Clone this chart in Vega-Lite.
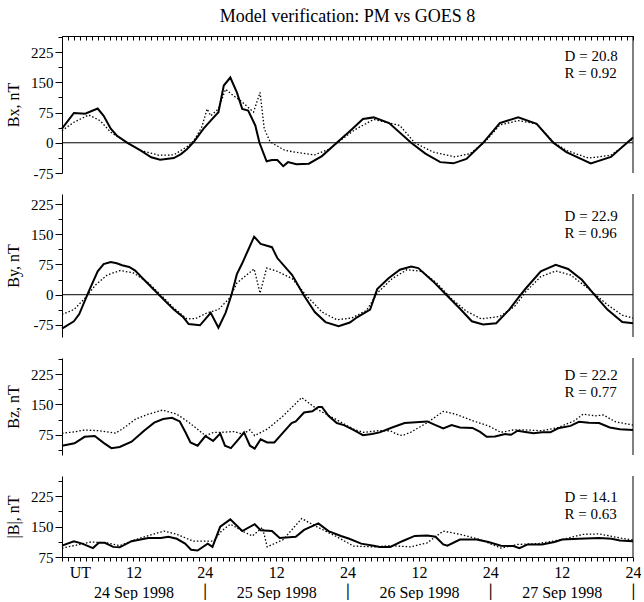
{
  "$schema": "https://vega.github.io/schema/vega-lite/v6.json",
  "padding": {"left": 5, "top": 8, "right": 0, "bottom": 0},
  "bounds": "flush",
  "spacing": 21,
  "title": {"text": "Model verification: PM vs GOES 8", "font": "Liberation Serif", "fontSize": 18, "fontWeight": "normal", "anchor": "middle", "frame": "group", "offset": 4, "color": "black"},
  "datasets": {
    "one": [{"k": 1}],
    "bxPM": [{"t":0,"v":35},{"t":2,"v":74},{"t":3.9,"v":72},{"t":6,"v":85},{"t":7,"v":67},{"t":8.2,"v":35},{"t":9.2,"v":18},{"t":11,"v":0},{"t":13.2,"v":-19},{"t":15,"v":-36},{"t":16.5,"v":-42},{"t":18.8,"v":-38},{"t":20,"v":-28},{"t":21,"v":-16},{"t":22.2,"v":3},{"t":23.8,"v":35},{"t":25,"v":55},{"t":26.3,"v":76},{"t":27.2,"v":142},{"t":28.3,"v":162},{"t":29.4,"v":125},{"t":30.3,"v":84},{"t":31.3,"v":80},{"t":32.5,"v":43},{"t":33.2,"v":0},{"t":34.4,"v":-46},{"t":35.3,"v":-43},{"t":36.2,"v":-43},{"t":37.2,"v":-58},{"t":38,"v":-48},{"t":39.4,"v":-53},{"t":41.5,"v":-52},{"t":43.7,"v":-33},{"t":46.2,"v":0},{"t":48.7,"v":33},{"t":50.6,"v":59},{"t":52.4,"v":63},{"t":55,"v":49},{"t":58.7,"v":0},{"t":61.1,"v":-27},{"t":63.6,"v":-48},{"t":65.8,"v":-51},{"t":68,"v":-40},{"t":70.8,"v":0},{"t":73.6,"v":49},{"t":76.7,"v":63},{"t":79.8,"v":47},{"t":82.6,"v":0},{"t":84.8,"v":-23},{"t":88.9,"v":-51},{"t":92.3,"v":-35},{"t":96,"v":13}],
    "bxGO": [{"t":0,"v":30},{"t":2,"v":51},{"t":4.5,"v":69},{"t":6.4,"v":55},{"t":8.2,"v":26},{"t":10.7,"v":2},{"t":13.2,"v":-19},{"t":16.3,"v":-31},{"t":18.8,"v":-30},{"t":21.3,"v":-7},{"t":22.2,"v":6},{"t":23.5,"v":39},{"t":24.4,"v":84},{"t":25,"v":67},{"t":26.3,"v":84},{"t":27.5,"v":133},{"t":28.8,"v":117},{"t":30,"v":105},{"t":32.2,"v":76},{"t":33.3,"v":125},{"t":34,"v":35},{"t":35,"v":2},{"t":37.5,"v":-19},{"t":40,"v":-25},{"t":42.5,"v":-30},{"t":45,"v":-15},{"t":46.8,"v":6},{"t":49.3,"v":33},{"t":52.4,"v":58},{"t":55,"v":49},{"t":56.8,"v":43},{"t":59.3,"v":0},{"t":62.4,"v":-23},{"t":66.1,"v":-35},{"t":68.6,"v":-27},{"t":71.1,"v":2},{"t":73.6,"v":44},{"t":76.7,"v":55},{"t":79.8,"v":47},{"t":82.6,"v":2},{"t":84.8,"v":-19},{"t":88.5,"v":-38},{"t":92.3,"v":-31},{"t":96,"v":10}],
    "byPM": [{"t":0,"v":-84},{"t":2,"v":-66},{"t":2.9,"v":-48},{"t":4.5,"v":8},{"t":6,"v":58},{"t":7,"v":76},{"t":8.2,"v":81},{"t":9.2,"v":78},{"t":10.1,"v":73},{"t":11.3,"v":69},{"t":12.3,"v":60},{"t":13.8,"v":37},{"t":16.3,"v":0},{"t":18.8,"v":-37},{"t":20.4,"v":-56},{"t":21.3,"v":-73},{"t":23.2,"v":-76},{"t":25,"v":-45},{"t":26.3,"v":-82},{"t":27.5,"v":-45},{"t":28.5,"v":0},{"t":29.4,"v":51},{"t":30.3,"v":78},{"t":31.3,"v":111},{"t":32.3,"v":144},{"t":33.4,"v":126},{"t":35.3,"v":118},{"t":36.2,"v":91},{"t":38.7,"v":49},{"t":40.6,"v":0},{"t":42.5,"v":-43},{"t":44.3,"v":-68},{"t":46.5,"v":-78},{"t":48.4,"v":-69},{"t":49.6,"v":-56},{"t":51.8,"v":-37},{"t":53,"v":14},{"t":54.9,"v":41},{"t":56.8,"v":62},{"t":58.7,"v":70},{"t":59.9,"v":66},{"t":62.4,"v":33},{"t":64.6,"v":0},{"t":66.8,"v":-33},{"t":68.9,"v":-66},{"t":70.8,"v":-74},{"t":73,"v":-71},{"t":75.2,"v":-37},{"t":76.7,"v":-8},{"t":78,"v":16},{"t":80.5,"v":58},{"t":83,"v":74},{"t":85.1,"v":64},{"t":87.4,"v":37},{"t":89.5,"v":0},{"t":91.7,"v":-37},{"t":94.2,"v":-68},{"t":96,"v":-71}],
    "byGO": [{"t":0,"v":-49},{"t":2,"v":-37},{"t":3.9,"v":-8},{"t":5.7,"v":25},{"t":7.6,"v":49},{"t":9.8,"v":60},{"t":12,"v":54},{"t":14.4,"v":31},{"t":16.3,"v":4},{"t":18.8,"v":-33},{"t":21,"v":-60},{"t":22.5,"v":-59},{"t":24.4,"v":-45},{"t":26.3,"v":-37},{"t":28.2,"v":-8},{"t":29.4,"v":29},{"t":32.3,"v":64},{"t":33.3,"v":4},{"t":34.4,"v":66},{"t":36.2,"v":58},{"t":38.7,"v":40},{"t":41.2,"v":-4},{"t":43.7,"v":-43},{"t":46.2,"v":-62},{"t":48.7,"v":-58},{"t":51.2,"v":-39},{"t":53,"v":4},{"t":55.5,"v":40},{"t":58,"v":62},{"t":60.5,"v":58},{"t":63,"v":29},{"t":65.5,"v":-10},{"t":68,"v":-41},{"t":70.5,"v":-60},{"t":73.6,"v":-54},{"t":76.1,"v":-29},{"t":78,"v":8},{"t":80.5,"v":45},{"t":83,"v":59},{"t":85.5,"v":49},{"t":88.5,"v":15},{"t":91.7,"v":-25},{"t":94.2,"v":-51},{"t":96,"v":-58}],
    "bzPM": [{"t":0,"v":48},{"t":2.1,"v":54},{"t":3.8,"v":70},{"t":5.5,"v":72},{"t":7,"v":55},{"t":8.3,"v":42},{"t":9.7,"v":45},{"t":11.7,"v":58},{"t":13.8,"v":85},{"t":15.5,"v":105},{"t":17,"v":114},{"t":18.5,"v":117},{"t":19.8,"v":108},{"t":20.8,"v":80},{"t":21.6,"v":56},{"t":22.8,"v":48},{"t":24.1,"v":72},{"t":25.4,"v":60},{"t":26.6,"v":78},{"t":27.4,"v":48},{"t":28.4,"v":42},{"t":29.7,"v":64},{"t":30.6,"v":81},{"t":31.6,"v":48},{"t":32.4,"v":41},{"t":33.4,"v":64},{"t":34.5,"v":56},{"t":35.7,"v":56},{"t":37.2,"v":81},{"t":38.6,"v":104},{"t":39.3,"v":108},{"t":40.7,"v":130},{"t":42.1,"v":133},{"t":43.1,"v":144},{"t":43.7,"v":144},{"t":44.8,"v":122},{"t":46.2,"v":104},{"t":47.4,"v":99},{"t":49,"v":87},{"t":50.6,"v":74},{"t":52.1,"v":77},{"t":53.4,"v":81},{"t":55.5,"v":93},{"t":57.6,"v":104},{"t":61.4,"v":108},{"t":62.8,"v":99},{"t":64.1,"v":91},{"t":65.5,"v":99},{"t":66.9,"v":93},{"t":69,"v":92},{"t":70.3,"v":82},{"t":71.4,"v":70},{"t":72.8,"v":71},{"t":74.5,"v":77},{"t":75.5,"v":75},{"t":76.6,"v":85},{"t":77.9,"v":82},{"t":79.3,"v":79},{"t":80.7,"v":81},{"t":82.1,"v":81},{"t":83.4,"v":91},{"t":85.5,"v":97},{"t":86.9,"v":107},{"t":88.6,"v":105},{"t":90.3,"v":104},{"t":92.1,"v":93},{"t":93.8,"v":89},{"t":96,"v":87}],
    "bzGO": [{"t":0,"v":79},{"t":2,"v":82},{"t":3.8,"v":87},{"t":6.2,"v":85},{"t":7.6,"v":82},{"t":9,"v":79},{"t":10.3,"v":91},{"t":12.4,"v":114},{"t":14.5,"v":126},{"t":16.9,"v":136},{"t":19.3,"v":126},{"t":21.4,"v":105},{"t":23.1,"v":85},{"t":24.1,"v":73},{"t":25.5,"v":81},{"t":26.6,"v":81},{"t":29,"v":83},{"t":30.3,"v":77},{"t":31.6,"v":87},{"t":32.4,"v":73},{"t":34.5,"v":89},{"t":37.2,"v":122},{"t":40.3,"v":167},{"t":42.1,"v":147},{"t":43.4,"v":134},{"t":46.2,"v":112},{"t":49,"v":89},{"t":50.7,"v":81},{"t":53.1,"v":85},{"t":55.2,"v":85},{"t":56.2,"v":77},{"t":57.2,"v":73},{"t":58.6,"v":81},{"t":61.4,"v":105},{"t":64.1,"v":133},{"t":66.2,"v":126},{"t":69,"v":110},{"t":71.7,"v":97},{"t":73.8,"v":81},{"t":75.9,"v":87},{"t":77.9,"v":87},{"t":80.7,"v":85},{"t":83.4,"v":93},{"t":86.2,"v":110},{"t":87.6,"v":126},{"t":89.7,"v":122},{"t":91,"v":124},{"t":93.1,"v":107},{"t":96,"v":99}],
    "bPM": [{"t":0,"v":103},{"t":2,"v":114},{"t":3.4,"v":108},{"t":5.2,"v":97},{"t":6.2,"v":110},{"t":7.2,"v":110},{"t":8.6,"v":100},{"t":9.7,"v":99},{"t":11.7,"v":114},{"t":14.5,"v":122},{"t":16.6,"v":122},{"t":17.9,"v":125},{"t":19.3,"v":120},{"t":20.7,"v":108},{"t":21.7,"v":93},{"t":22.8,"v":91},{"t":24.5,"v":108},{"t":25.3,"v":100},{"t":26.6,"v":150},{"t":28.3,"v":168},{"t":30.3,"v":139},{"t":32.4,"v":156},{"t":33.4,"v":141},{"t":35.3,"v":139},{"t":36.6,"v":122},{"t":39.3,"v":125},{"t":40.7,"v":142},{"t":43.1,"v":158},{"t":44.8,"v":139},{"t":46.9,"v":127},{"t":48.3,"v":120},{"t":50.3,"v":108},{"t":52.4,"v":103},{"t":53.4,"v":100},{"t":55.2,"v":100},{"t":57.2,"v":114},{"t":59.3,"v":127},{"t":61.4,"v":128},{"t":62.8,"v":125},{"t":64.1,"v":106},{"t":64.8,"v":103},{"t":66.9,"v":118},{"t":69.7,"v":118},{"t":71.7,"v":112},{"t":73.8,"v":103},{"t":75.9,"v":102},{"t":76.9,"v":97},{"t":78.3,"v":106},{"t":80.7,"v":106},{"t":82.8,"v":112},{"t":84.1,"v":118},{"t":86.9,"v":120},{"t":90.3,"v":122},{"t":92.4,"v":120},{"t":93.8,"v":116},{"t":96,"v":114}],
    "bGO": [{"t":0,"v":97},{"t":2,"v":103},{"t":4.8,"v":112},{"t":7.6,"v":110},{"t":9.7,"v":103},{"t":12.4,"v":118},{"t":15.2,"v":131},{"t":17.2,"v":139},{"t":19.3,"v":131},{"t":22.1,"v":114},{"t":23.8,"v":114},{"t":25.5,"v":114},{"t":26.8,"v":139},{"t":28.3,"v":156},{"t":30.3,"v":139},{"t":32,"v":127},{"t":33.7,"v":148},{"t":34.5,"v":100},{"t":37.2,"v":118},{"t":40.3,"v":170},{"t":42.8,"v":150},{"t":46.2,"v":125},{"t":49,"v":102},{"t":52.4,"v":100},{"t":55.2,"v":103},{"t":58.6,"v":100},{"t":61.4,"v":110},{"t":64.1,"v":139},{"t":66.9,"v":131},{"t":70.3,"v":118},{"t":73.8,"v":97},{"t":76.6,"v":106},{"t":80,"v":108},{"t":84.1,"v":118},{"t":87.6,"v":131},{"t":90.3,"v":132},{"t":93.8,"v":122},{"t":96,"v":117}]
  },
  "config": {
    "font": "Liberation Serif",
    "view": {"stroke": null},
    "axis": {"grid": false, "domainColor": "black", "tickColor": "black", "labelColor": "black", "titleColor": "black", "labelFont": "Liberation Serif", "titleFont": "Liberation Serif", "titleFontWeight": "normal", "labelFontSize": 15, "titleFontSize": 16, "domainWidth": 1, "tickWidth": 1, "tickCount": 200, "labelOverlap": false},
    "line": {"color": "black"},
    "rule": {"color": "black"},
    "text": {"color": "black", "font": "Liberation Serif"}
  },
  "vconcat": [
    {
      "width": 571, "height": 137,
      "layer": [
        {"data": {"name": "bxGO"}, "mark": {"type": "line", "strokeWidth": 1.3, "strokeDash": [1.5, 2]},
         "encoding": {
           "x": {"field": "t", "type": "quantitative", "scale": {"domain": [0, 96], "nice": false, "zero": false}, "axis": {"orient": "top", "values": [0,1,2,3,4,5,6,7,8,9,10,11,12,13,14,15,16,17,18,19,20,21,22,23,24,25,26,27,28,29,30,31,32,33,34,35,36,37,38,39,40,41,42,43,44,45,46,47,48,49,50,51,52,53,54,55,56,57,58,59,60,61,62,63,64,65,66,67,68,69,70,71,72,73,74,75,76,77,78,79,80,81,82,83,84,85,86,87,88,89,90,91,92,93,94,95,96], "labels": false, "tickSize": -4, "tickCount": 200, "title": null}},
           "y": {"field": "v", "type": "quantitative", "scale": {"domain": [-75, 265], "nice": false, "zero": false}, "axis": {"values": [-75,-37.5,0,37.5,75,112.5,150,187.5,225,262.5], "tickCount": 200, "labelExpr": "datum.value % 75 == 0 ? '' + datum.value : ''", "tickSize": {"condition": {"test": "datum.value % 75 == 0", "value": 7}, "value": 4}, "labelPadding": 2, "title": "Bx, nT", "titlePadding": 9}}
         }},
        {"data": {"name": "bxPM"}, "mark": {"type": "line", "strokeWidth": 2},
         "encoding": {"x": {"field": "t", "type": "quantitative"}, "y": {"field": "v", "type": "quantitative"}}},
        {"data": {"name": "one"}, "mark": {"type": "rule", "strokeWidth": 1}, "encoding": {"y": {"datum": 0}}},
        {"data": {"name": "one"}, "mark": {"type": "rule", "strokeWidth": 1}, "encoding": {"x": {"datum": 96}}},
        {"data": {"name": "one"}, "mark": {"type": "text", "align": "left", "baseline": "middle", "fontSize": 15, "lineHeight": 17},
         "encoding": {"x": {"datum": 84.5}, "y": {"datum": 215}, "text": {"value": ["D = 20.8", "R = 0.92"]}}}
      ]
    },
    {
      "width": 571, "height": 143,
      "layer": [
        {"data": {"name": "byGO"}, "mark": {"type": "line", "strokeWidth": 1.3, "strokeDash": [1.5, 2]},
         "encoding": {
           "x": {"field": "t", "type": "quantitative", "scale": {"domain": [0, 96], "nice": false, "zero": false}, "axis": null},
           "y": {"field": "v", "type": "quantitative", "scale": {"domain": [-105, 250], "nice": false, "zero": false}, "axis": {"values": [-75,-37.5,0,37.5,75,112.5,150,187.5,225], "tickCount": 200, "labelExpr": "datum.value % 75 == 0 ? '' + datum.value : ''", "tickSize": {"condition": {"test": "datum.value % 75 == 0", "value": 7}, "value": 4}, "labelPadding": 2, "title": "By, nT", "titlePadding": 9}}
         }},
        {"data": {"name": "byPM"}, "mark": {"type": "line", "strokeWidth": 2},
         "encoding": {"x": {"field": "t", "type": "quantitative", "axis": null}, "y": {"field": "v", "type": "quantitative"}}},
        {"data": {"name": "one"}, "mark": {"type": "rule", "strokeWidth": 1}, "encoding": {"y": {"datum": 0}}},
        {"data": {"name": "one"}, "mark": {"type": "rule", "strokeWidth": 1}, "encoding": {"x": {"datum": 96, "axis": null}}},
        {"data": {"name": "one"}, "mark": {"type": "text", "align": "left", "baseline": "middle", "fontSize": 15, "lineHeight": 17},
         "encoding": {"x": {"datum": 84.5, "axis": null}, "y": {"datum": 195}, "text": {"value": ["D = 22.9", "R = 0.96"]}}}
      ]
    },
    {
      "width": 571, "height": 97,
      "layer": [
        {"data": {"name": "bzGO"}, "mark": {"type": "line", "strokeWidth": 1.3, "strokeDash": [1.5, 2]},
         "encoding": {
           "x": {"field": "t", "type": "quantitative", "scale": {"domain": [0, 96], "nice": false, "zero": false}, "axis": null},
           "y": {"field": "v", "type": "quantitative", "scale": {"domain": [25, 265], "nice": false, "zero": false}, "axis": {"values": [37.5,75,112.5,150,187.5,225,262.5], "tickCount": 200, "labelExpr": "datum.value % 75 == 0 ? '' + datum.value : ''", "tickSize": {"condition": {"test": "datum.value % 75 == 0", "value": 7}, "value": 4}, "labelPadding": 2, "title": "Bz, nT", "titlePadding": 9}}
         }},
        {"data": {"name": "bzPM"}, "mark": {"type": "line", "strokeWidth": 2},
         "encoding": {"x": {"field": "t", "type": "quantitative", "axis": null}, "y": {"field": "v", "type": "quantitative"}}},
        {"data": {"name": "one"}, "mark": {"type": "rule", "strokeWidth": 1}, "encoding": {"x": {"datum": 96, "axis": null}}},
        {"data": {"name": "one"}, "mark": {"type": "text", "align": "left", "baseline": "middle", "fontSize": 15, "lineHeight": 17},
         "encoding": {"x": {"datum": 84.5, "axis": null}, "y": {"datum": 223}, "text": {"value": ["D = 22.2", "R = 0.77"]}}}
      ]
    },
    {
      "width": 571, "height": 81,
      "layer": [
        {"data": {"name": "bGO"}, "mark": {"type": "line", "strokeWidth": 1.3, "strokeDash": [1.5, 2]},
         "encoding": {
           "x": {"field": "t", "type": "quantitative", "scale": {"domain": [0, 96], "nice": false, "zero": false}, "axis": {"orient": "bottom", "values": [0,1,2,3,4,5,6,7,8,9,10,11,12,13,14,15,16,17,18,19,20,21,22,23,24,25,26,27,28,29,30,31,32,33,34,35,36,37,38,39,40,41,42,43,44,45,46,47,48,49,50,51,52,53,54,55,56,57,58,59,60,61,62,63,64,65,66,67,68,69,70,71,72,73,74,75,76,77,78,79,80,81,82,83,84,85,86,87,88,89,90,91,92,93,94,95,96], "tickCount": 200, "labelExpr": "datum.value == 3 ? 'UT' : datum.value == 12 ? ['12', '24 Sep 1998'] : datum.value == 36 ? ['12', '25 Sep 1998'] : datum.value == 60 ? ['12', '26 Sep 1998'] : datum.value == 84 ? ['12', '27 Sep 1998'] : (datum.value > 0 && datum.value % 24 == 0) ? ['24', '│'] : ''", "labelFontSize": 16, "labelLineHeight": 20, "labelOverlap": false, "labelFlush": false, "labelBound": false, "tickSize": 4, "labelPadding": 3, "title": null}},
           "y": {"field": "v", "type": "quantitative", "scale": {"domain": [75, 275], "nice": false, "zero": false}, "axis": {"values": [75,112.5,150,187.5,225,262.5], "tickCount": 200, "labelExpr": "datum.value % 75 == 0 ? '' + datum.value : ''", "tickSize": {"condition": {"test": "datum.value % 75 == 0", "value": 7}, "value": 4}, "labelPadding": 2, "title": "|B|, nT", "titlePadding": 9}}
         }},
        {"data": {"name": "bPM"}, "mark": {"type": "line", "strokeWidth": 2},
         "encoding": {"x": {"field": "t", "type": "quantitative"}, "y": {"field": "v", "type": "quantitative"}}},
        {"data": {"name": "one"}, "mark": {"type": "rule", "strokeWidth": 1}, "encoding": {"x": {"datum": 96}}},
        {"data": {"name": "one"}, "mark": {"type": "text", "align": "left", "baseline": "middle", "fontSize": 15, "lineHeight": 17},
         "encoding": {"x": {"datum": 84.5}, "y": {"datum": 223}, "text": {"value": ["D = 14.1", "R = 0.63"]}}}
      ]
    }
  ]
}
